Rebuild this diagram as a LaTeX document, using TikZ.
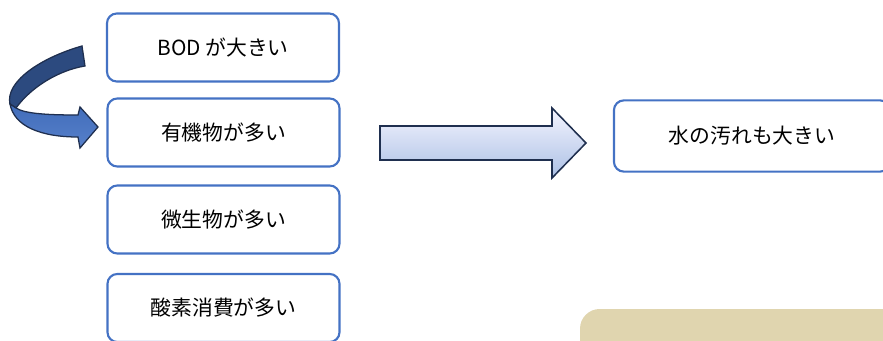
\documentclass[tikz,border=0pt]{standalone}
\usepackage{fontspec}
\setmainfont{Noto Sans CJK JP}
\definecolor{boxblue}{HTML}{4472C4}
\definecolor{navyline}{HTML}{1F2F4F}
\definecolor{beige}{HTML}{E0D5AF}
\begin{document}
\begin{tikzpicture}
        [x=0.025cm,y=-0.025cm,
        boxdecorate/.style={draw=boxblue,line width=1.5pt,rounded corners=7pt,fill=white,
          minimum width=5.8cm,minimum height=1.7cm,font=\fontsize{14.8}{17}\selectfont},%
        arrowdecorate/.style={draw=navyline,line width=1.1pt,line join=miter,
          top color=blue!4!white,bottom color=boxblue!45!white},%
        backdecorate/.style={draw=navyline,line width=0.9pt,fill=boxblue!65!black},%
        frontdecorate/.style={draw=navyline,line width=0.9pt,top color=boxblue!95!black,bottom color=boxblue!90!white}]
        \useasboundingbox (0,0) rectangle (883,341);
        \clip (0,0) rectangle (883,341);
        %% background panel
        \fill[beige,rounded corners=14pt] (580,309) rectangle (960,420);
        %% boxes
        \foreach \nodename/\x/\y/\text in {1/223/47.5/BOD が大きい,
          2/223.5/132.5/有機物が多い, 3/223.5/219.5/微生物が多い, 4/223.5/308/酸素消費が多い}
        {
          \node (\nodename) at (\x,\y) [boxdecorate] {\text};
        }
        \node (5) at (752,136) [boxdecorate,minimum width=6.9cm,minimum height=1.78cm] {水の汚れも大きい};
        %% big arrow
        \path[arrowdecorate] (380,126) -- (552,126) -- (552,108) -- (586,143)
          -- (552,178) -- (552,160) -- (380,160) -- cycle;
        %% curved arrow
        \path[backdecorate] (82,46) .. controls (40,58) and (5,82) .. (10,104)
          -- (16,108) .. controls (32,86) and (60,70) .. (85,66) -- cycle;
        \path[frontdecorate] (10,104) .. controls (14,126) and (40,137) .. (78,137)
          -- (80,148) -- (98,127) -- (80,107) -- (78,115)
          .. controls (50,115) and (25,114) .. (16,108) -- cycle;
\end{tikzpicture}
\end{document}
